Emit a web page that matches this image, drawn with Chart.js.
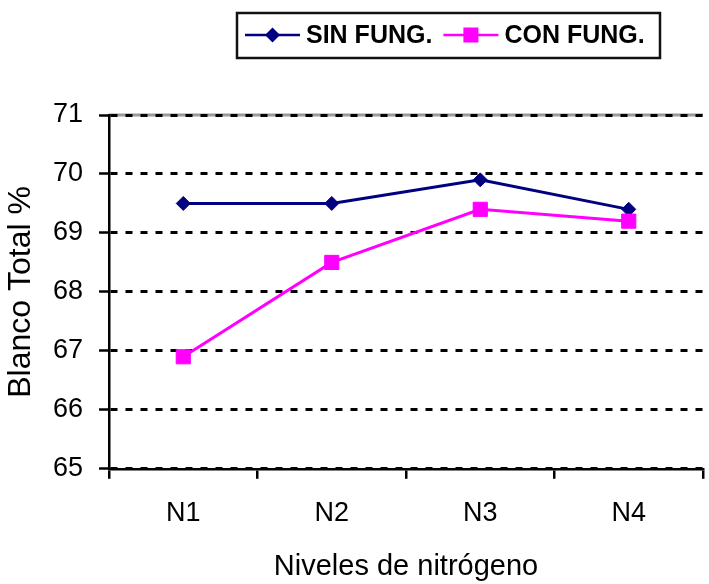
<!DOCTYPE html>
<html>
<head>
<meta charset="utf-8">
<script src="https://cdn.jsdelivr.net/npm/chart.js@4/dist/chart.umd.min.js"></script>
<style>
  html, body { margin: 0; padding: 0; background: #fff; overflow: hidden; }
  #wrap { width: 714px; height: 584px; }
</style>
</head>
<body>
<div id="wrap"><canvas id="chart"></canvas></div>
<script>
const categories = ['N1', 'N2', 'N3', 'N4'];
const sinFung = [69.5, 69.5, 69.9, 69.4];
const conFung = [66.9, 68.5, 69.4, 69.2];
const seriesNames = ['SIN FUNG.', 'CON FUNG.'];
const yTitle = 'Blanco Total %';
const xTitle = 'Niveles de nitrógeno';

const FONT = "'Liberation Sans', Arial, sans-serif";

// marker shapes for the legend samples
function drawMarker(ctx, style, x, y) {
    ctx.beginPath();
    if (style === 'rectRot') {
        ctx.moveTo(x - 7.5, y);
        ctx.lineTo(x, y - 7.5);
        ctx.lineTo(x + 7.5, y);
        ctx.lineTo(x, y + 7.5);
        ctx.closePath();
    } else {
        ctx.rect(x - 7.5, y - 7.5, 15, 15);
    }
    ctx.fill();
}

// framed legend above the plot
const boxedLegend = {
    id: 'boxedLegend',
    afterDraw(chart) {
        const ctx = chart.ctx;
        ctx.save();
        ctx.lineWidth = 2.5;
        ctx.strokeStyle = '#111';
        ctx.strokeRect(237, 13, 423, 45);

        ctx.font = 'bold 25px ' + FONT;
        ctx.textBaseline = 'alphabetic';
        let x = 245;
        const cy = 35;
        chart.data.datasets.forEach((ds) => {
            ctx.strokeStyle = ds.borderColor;
            ctx.fillStyle = ds.backgroundColor;
            ctx.lineWidth = 2.5;
            ctx.beginPath();
            ctx.moveTo(x, cy);
            ctx.lineTo(x + 55, cy);
            ctx.stroke();
            drawMarker(ctx, ds.pointStyle, x + 27.5, cy);
            x += 61;
            ctx.fillStyle = '#000';
            ctx.fillText(ds.label, x, 43);
            x += ctx.measureText(ds.label).width + 11;
        });
        ctx.restore();
    }
};

// grey frame line along the top of the plot area
const topFrame = {
    id: 'topFrame',
    beforeDraw(chart) {
        const {ctx, chartArea} = chart;
        ctx.save();
        ctx.strokeStyle = '#9a9a9a';
        ctx.lineWidth = 3;
        ctx.beginPath();
        ctx.moveTo(chartArea.left, chartArea.top);
        ctx.lineTo(chartArea.right, chartArea.top);
        ctx.stroke();
        ctx.restore();
    }
};

new Chart(document.getElementById('chart'), {
    type: 'line',
    data: {
        labels: categories,
        datasets: [{
            label: seriesNames[0],
            data: sinFung,
            borderColor: '#000080',
            backgroundColor: '#000080',
            borderWidth: 3,
            pointStyle: 'rectRot',
            pointRadius: 7,
            pointBorderWidth: 1,
            order: 1
        }, {
            label: seriesNames[1],
            data: conFung,
            borderColor: '#FF00FF',
            backgroundColor: '#FF00FF',
            borderWidth: 3,
            pointStyle: 'rect',
            pointRadius: 10,
            pointBorderWidth: 1,
            order: 0
        }]
    },
    options: {
        responsive: true,
        maintainAspectRatio: false,
        animation: false,
        layout: { padding: { top: 115, right: 2, bottom: 0, left: 0 } },
        elements: { line: { tension: 0 } },
        plugins: {
            legend: { display: false },
            tooltip: { enabled: false }
        },
        scales: {
            x: {
                offset: true,
                grid: {
                    offset: true,
                    drawOnChartArea: false,
                    tickLength: 10,
                    color: '#000',
                    lineWidth: 2.5
                },
                border: { color: '#000', width: 2.5 },
                ticks: { color: '#000', font: { family: FONT, size: 27 }, padding: 19 },
                title: {
                    display: true,
                    text: xTitle,
                    color: '#000',
                    font: { family: FONT, size: 29 },
                    padding: { top: 0, bottom: 0 }
                }
            },
            y: {
                min: 65,
                max: 71,
                grid: {
                    color: '#000',
                    lineWidth: 3,
                    tickLength: 10,
                    tickWidth: 2.5,
                    tickBorderDash: []
                },
                border: { color: '#000', width: 2.5, dash: [7, 8] },
                ticks: { stepSize: 1, color: '#000', font: { family: FONT, size: 27 }, padding: 16 },
                title: {
                    display: true,
                    text: yTitle,
                    color: '#000',
                    font: { family: FONT, size: 32, lineHeight: 1 },
                    padding: { top: 5, bottom: 0 }
                }
            }
        }
    },
    plugins: [topFrame, boxedLegend]
});
</script>
</body>
</html>
